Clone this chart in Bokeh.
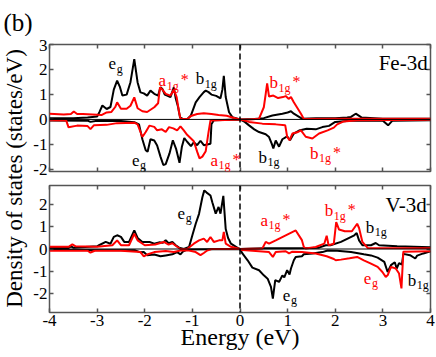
import math
from bokeh.plotting import figure
from bokeh.layouts import column, row
from bokeh.models import Range1d, LinearAxis, FixedTicker, Label, Span
from bokeh.embed import file_html
from bokeh.resources import INLINE

FONT = "Liberation Serif"
FRAME = "#555555"
RED = "#ff0000"

# ---------------- data: Fe-3d panel ----------------
fe_k_up_x = [-4.0, -3.5, -3.2, -3.0, -2.95, -2.89, -2.8, -2.72, -2.65, -2.58, -2.52, -2.47, -2.38, -2.3,
             -2.22, -2.15, -2.09, -2.02, -1.95, -1.88, -1.8, -1.72, -1.67, -1.63, -1.58, -1.53, -1.46,
             -1.39, -1.35, -1.3, -1.26, -1.2, -1.1, -1.03, -0.93, -0.85, -0.76, -0.72, -0.66, -0.6, -0.5,
             -0.41, -0.37, -0.34, -0.3, -0.23, -0.16, 0.0, 0.3, 0.5, 0.68, 0.89, 1.0, 1.07, 1.13, 1.3,
             1.6, 2.0, 2.25, 2.33, 2.43, 2.55, 3.0, 4.0]
fe_k_up_y = [0.05, 0.05, 0.08, 0.12, 0.3, 0.56, 0.42, 0.5, 1.2, 1.56, 1.3, 0.96, 1.0, 1.5,
             2.43, 1.49, 1.09, 1.05, 0.96, 1.16, 1.03, 0.96, 1.3, 1.23, 1.0, 0.96, 0.9,
             1.29, 0.85, 0.5, 0.08, 0.02, 0.03, 0.16, 0.69, 0.9, 1.1, 1.16, 1.1, 1.0, 0.95,
             0.85, 1.2, 1.76, 0.9, 0.29, 0.09, 0.0, 0.02, 0.05, 0.16, 0.23, 0.28, 0.33, 0.23, 0.03,
             0.05, 0.05, 0.08, 0.1, 0.23, 0.08, 0.03, 0.03]

fe_r_up_x = [-4.0, -3.7, -3.55, -3.49, -3.42, -3.3, -3.1, -2.9, -2.8, -2.7, -2.62, -2.58, -2.5, -2.38,
             -2.3, -2.22, -2.15, -2.05, -1.95, -1.8, -1.72, -1.68, -1.63, -1.56, -1.46, -1.39, -1.33,
             -1.28, -1.25, -1.1, -1.03, -0.9, -0.76, -0.6, -0.45, -0.28, -0.14, 0.0, 0.2, 0.4, 0.5,
             0.54, 0.57, 0.61, 0.7, 0.8, 0.9, 0.96, 1.02, 1.07, 1.13, 1.28, 1.34, 2.0, 4.0]
fe_r_up_y = [0.23, 0.2, 0.22, 0.32, 0.22, 0.22, 0.2, 0.18, 0.28, 0.3, 0.5, 0.69, 0.43, 0.43,
             0.55, 0.89, 0.45, 0.33, 0.3, 0.49, 0.65, 1.29, 1.2, 1.03, 0.96, 1.2, 0.9,
             0.3, 0.03, 0.02, 0.14, 0.22, 0.25, 0.22, 0.18, 0.15, 0.07, 0.0, 0.0, 0.03, 0.49,
             1.03, 1.45, 0.92, 0.96, 0.86, 0.9, 0.94, 0.83, 0.9, 0.69, 0.23, 0.02, 0.03, 0.03]

fe_k_dn_x = [-4.0, -3.2, -3.14, -3.0, -2.5, -2.22, -2.12, -2.05, -1.98, -1.94, -1.88, -1.8, -1.74,
             -1.67, -1.61, -1.56, -1.48, -1.41, -1.34, -1.27, -1.22, -1.17, -1.11, -1.03, -0.97, -0.9,
             -0.83, -0.76, -0.62, -0.6, -0.55, 0.0, 0.1, 0.19, 0.3, 0.4, 0.54, 0.61, 0.67, 0.7, 0.75,
             0.82, 0.89, 0.99, 1.05, 1.13, 1.24, 1.4, 1.59, 1.73, 1.87, 2.0, 2.3, 3.0, 3.11, 3.2, 4.0]
fe_k_dn_y = [-0.04, -0.05, -0.1, -0.05, -0.06, -0.11, -0.2, -0.8, -1.24, -1.3, -0.8, -0.85, -1.05,
             -1.5, -1.84, -1.8, -1.37, -0.84, -1.2, -1.75, -1.1, -0.75, -0.9, -1.08, -0.92, -1.04,
             -0.86, -1.04, -0.98, -0.2, -0.03, 0.0, -0.1, -0.24, -0.4, -0.51, -0.6, -0.71, -1.0, -1.17, -0.85,
             -1.1, -0.8, -0.68, -0.84, -0.57, -0.45, -0.38, -0.4, -0.31, -0.26, -0.1, -0.05, -0.05, -0.24, -0.05, -0.03]

fe_r_dn_x = [-4.0, -3.65, -3.6, -3.42, -3.2, -3.14, -3.07, -2.8, -2.58, -2.22, -2.15, -2.05, -1.98,
             -1.9, -1.8, -1.74, -1.64, -1.56, -1.49, -1.4, -1.32, -1.25, -1.18, -1.11, -1.04, -0.97,
             -0.9, -0.85, -0.79, -0.72, -0.66, -0.62, 0.0, 0.19, 0.47, 0.75, 0.95, 0.99, 1.04, 1.1,
             1.2, 1.28, 1.38, 1.52, 1.66, 1.84, 1.97, 2.04, 2.18, 2.46, 4.0]
fe_r_dn_y = [-0.03, -0.04, -0.32, -0.25, -0.27, -0.39, -0.24, -0.22, -0.15, -0.13, -0.2, -0.71, -0.51,
             -0.25, -0.3, -0.44, -0.4, -0.51, -0.31, -0.36, -0.44, -0.28, -0.44, -0.62, -0.75, -0.88,
             -1.3, -1.57, -1.5, -1.28, -0.5, -0.04, 0.0, -0.1, -0.17, -0.2, -0.24, -0.7, -0.84, -0.57,
             -0.52, -0.44, -0.7, -0.77, -0.57, -0.44, -0.33, -0.2, -0.08, -0.03, -0.01]

# ---------------- data: V-3d panel ----------------
v_k_up_x = [-4.0, -3.6, -3.55, -3.5, -3.0, -2.96, -2.82, -2.72, -2.65, -2.58, -2.5, -2.43, -2.33,
            -2.22, -2.15, -2.05, -1.9, -1.8, -1.7, -1.62, -1.56, -1.5, -1.42, -1.35, -1.28, -1.18,
            -1.07, -1.0, -0.93, -0.86, -0.79, -0.75, -0.7, -0.62, -0.58, -0.51, -0.45, -0.41, -0.35,
            -0.3, -0.25, -0.19, -0.05, 0.0, 0.5, 1.0, 1.5, 1.66, 1.8, 1.9, 2.12, 2.26, 2.4, 2.45, 2.5,
            2.57, 2.75, 2.85, 2.92, 3.3, 4.0]
v_k_up_y = [0.04, 0.05, 0.12, 0.06, 0.12, 0.17, 0.32, 0.24, 0.55, 0.62, 0.55, 0.32, 0.32,
            0.84, 0.5, 0.32, 0.32, 0.24, 0.3, 0.28, 0.4, 0.26, 0.32, 0.17, 0.06, 0.0,
            0.09, 0.62, 1.14, 1.59, 2.34, 2.65, 2.55, 2.42, 2.1, 1.6, 1.9, 1.6, 2.4,
            0.9, 0.5, 0.24, 0.05, 0.0, 0.03, 0.03, 0.05, 0.06, 0.17, 0.17, 0.32, 0.47, 0.62, 0.72, 0.39,
            0.17, 0.17, 0.27, 0.17, 0.12, 0.08]

v_r_up_x = [-4.0, -3.6, -3.52, -3.45, -3.0, -2.68, -2.58, -2.5, -2.33, -2.22, -2.15, -2.0, -1.78,
            -1.6, -1.5, -1.42, -1.32, -1.25, -1.11, -0.97, -0.86, -0.76, -0.69, -0.62, -0.55, -0.44,
            -0.37, -0.34, -0.3, -0.19, 0.0, 0.47, 0.54, 0.61, 0.75, 0.96, 1.17, 1.3, 1.34, 1.38, 1.59,
            1.77, 1.82, 1.86, 1.97, 2.02, 2.08, 2.2, 2.35, 2.46, 2.5, 2.57, 2.68, 4.0]
v_r_up_y = [0.1, 0.1, 0.21, 0.12, 0.1, 0.17, 0.39, 0.17, 0.17, 0.69, 0.39, 0.17, 0.2,
            0.32, 0.2, 0.26, 0.1, 0.0, 0.0, 0.24, 0.39, 0.47, 0.32, 0.54, 0.32, 0.39,
            0.39, 0.77, 0.24, 0.1, 0.0, 0.02, 0.32, 0.24, 0.39, 0.62, 0.84, 0.4, 0.09, 0.02, 0.09,
            0.24, 0.6, 0.17, 0.24, 1.22, 0.88, 0.8, 0.8, 1.14, 0.95, 0.32, 0.05, 0.03]

v_k_dn_x = [-4.0, -2.2, -2.09, -2.02, -1.95, -1.8, -1.67, -1.56, -1.42, -1.32, -1.25, -1.2, -1.1,
            0.0, 0.05, 0.16, 0.26, 0.4, 0.5, 0.58, 0.65, 0.69, 0.74, 0.82, 0.89, 0.93, 0.99, 1.04,
            1.07, 1.13, 1.17, 1.3, 1.34, 1.52, 1.73, 1.84, 2.04, 2.33, 2.6, 2.75, 2.89, 3.03, 3.1,
            3.17, 3.25, 3.29, 3.34, 3.4, 3.43, 3.57, 3.68, 3.72, 3.85, 4.0]
v_k_dn_y = [-0.05, -0.06, -0.15, -0.14, -0.28, -0.25, -0.33, -0.29, -0.24, -0.14, -0.24, -0.12, -0.02,
            0.0, -0.2, -0.51, -0.84, -0.96, -1.19, -1.34, -1.71, -2.24, -1.41, -1.49, -1.19, -1.28, -0.96, -1.15,
            -0.88, -0.51, -0.36, -0.33, -0.24, -0.2, -0.14, -0.07, -0.08, -0.14, -0.24, -0.29, -0.39, -0.58, -1.04,
            -0.73, -0.6, -0.88, -0.64, -0.7, -0.22, -0.28, -0.43, -0.3, -0.2, -0.1]

v_r_dn_x = [-4.0, -3.2, -3.14, -3.05, -2.5, -2.09, -2.02, -1.95, -1.8, -1.56, -1.39, -1.25, -1.07,
            -0.93, -0.83, -0.76, -0.69, -0.6, 0.0, 0.05, 0.61, 0.69, 0.75, 0.96, 1.03, 1.1, 1.3, 1.59,
            1.82, 1.97, 2.01, 2.12, 2.3, 2.46, 2.6, 2.75, 2.89, 2.99, 3.06, 3.1, 3.17, 3.27, 3.34, 3.39,
            3.43, 4.0]
v_r_dn_y = [-0.08, -0.08, -0.16, -0.08, -0.08, -0.14, -0.33, -0.25, -0.14, -0.09, -0.14, -0.07, -0.07,
            -0.14, -0.28, -0.18, -0.07, 0.0, 0.0, -0.05, -0.14, -0.36, -0.14, -0.1, -0.2, -0.12, -0.14, -0.2,
            -0.33, -0.45, -0.51, -0.48, -0.42, -0.36, -0.51, -0.66, -0.81, -1.04, -1.26, -1.19, -0.81, -0.88, -1.11, -1.78,
            -0.12, -0.1]

# ---------------- ticks and texts ----------------
x_ticks = [-4, -3, -2, -1, 0, 1, 2, 3, 4]
fe_y_ticks = [-2, -1, 0, 1, 2, 3]
v_y_ticks = [-2, -1, 0, 1, 2]
fe_range = (-2.1, 3.02)
v_range = (-2.87, 2.87)
x_title = "Energy (eV)"
y_title = "Density of states (states/eV)"

# (main, subscript, star, colour, x, y)
fe_notes = [
    ("e", "g", False, "black", -2.76, 2.24),
    ("a", "1g", True, RED, -1.71, 1.56),
    ("b", "1g", False, "black", -0.93, 1.64),
    ("b", "1g", True, RED, 0.62, 1.48),
    ("e", "g", False, "black", -2.27, -1.64),
    ("a", "1g", True, RED, -0.62, -1.64),
    ("b", "1g", False, "black", 0.39, -1.52),
    ("b", "1g", True, RED, 1.47, -1.36),
]
v_notes = [
    ("e", "g", False, "black", -1.31, 1.61),
    ("a", "1g", True, RED, 0.43, 1.29),
    ("b", "1g", True, RED, 1.78, 1.74),
    ("b", "1g", False, "black", 2.64, 0.98),
    ("e", "g", False, "black", 0.9, -2.09),
    ("e", "g", False, RED, 2.6, -1.32),
    ("b", "1g", False, "black", 3.52, -1.41),
]

LW = 28           # width of the y-label strip
PW = 408          # panel figure width
BL, BR = 21, 6    # left / right borders of the panels
HH = 36           # header height
H1, H2 = 142, 179


def style_axis(ax, ticks, show_labels):
    ax.ticker = FixedTicker(ticks=ticks)
    ax.major_tick_in = 4
    ax.major_tick_out = 0
    ax.minor_tick_line_color = None
    ax.major_tick_line_color = FRAME
    ax.major_tick_line_width = 1.5
    ax.axis_line_color = None
    if show_labels:
        ax.major_label_text_font = FONT
        ax.major_label_text_font_size = "17px"
        ax.major_label_text_color = "black"
        ax.major_label_standoff = 2
        ax.major_label_overrides = {t: str(t) for t in ticks}
    else:
        ax.major_label_text_font_size = "1px"
        ax.major_label_text_color = None
        ax.major_label_standoff = 0


def make_panel(height, btop, bbottom, yr, yticks, xlabels):
    p = figure(width=PW, height=height, x_range=Range1d(-4, 4), y_range=Range1d(*yr),
               output_backend="svg", toolbar_location=None,
               min_border_left=BL, min_border_right=BR,
               min_border_top=btop, min_border_bottom=bbottom)
    p.grid.visible = False
    p.outline_line_color = FRAME
    p.outline_line_width = 1.5
    bottom_ax = p.below[0]
    style_axis(bottom_ax, x_ticks, xlabels)
    style_axis(p.left[0], yticks, True)
    top_ax = LinearAxis()
    style_axis(top_ax, x_ticks, False)
    p.add_layout(top_ax, "above")
    right_ax = LinearAxis()
    style_axis(right_ax, yticks, False)
    p.add_layout(right_ax, "right")
    p.add_layout(Span(location=0, dimension="width", line_color="black", line_width=1))
    p.add_layout(Span(location=0, dimension="height", line_color="black", line_width=1.5,
                      line_dash="6 3"))
    return p, bottom_ax


def add_note(p, main, sub, star, color, x, y):
    w = 8.5 if main == "b" else 7.6
    p.add_layout(Label(x=x, y=y, text=main, text_font=FONT, text_font_size="17px",
                       text_color=color, text_baseline="alphabetic"))
    p.add_layout(Label(x=x, y=y, x_offset=w + 0.5, y_offset=-5, text=sub, text_font=FONT,
                       text_font_size="12px", text_color=color, text_baseline="alphabetic"))
    if star:
        sw = 12.5 if sub == "1g" else 6.5
        p.add_layout(Label(x=x, y=y, x_offset=w + sw + 2, y_offset=1, text="*", text_font=FONT,
                           text_font_size="16px", text_color=color, text_baseline="alphabetic"))


p1, _ = make_panel(H1, 8, 7, fe_range, fe_y_ticks, False)
p1.line(fe_k_up_x, fe_k_up_y, line_color="black", line_width=2)
p1.line(fe_k_dn_x, fe_k_dn_y, line_color="black", line_width=2)
p1.line(fe_r_up_x, fe_r_up_y, line_color=RED, line_width=2)
p1.line(fe_r_dn_x, fe_r_dn_y, line_color=RED, line_width=2)
for n in fe_notes:
    add_note(p1, *n)
p1.add_layout(Label(x=3.94, y=2.26, text="Fe-3d", text_font=FONT, text_font_size="21px",
                    text_align="right", text_baseline="alphabetic", text_color="black"))

p2, xa = make_panel(H2, 7, H2 - 7 - 127, v_range, v_y_ticks, True)
p2.line(v_k_up_x, v_k_up_y, line_color="black", line_width=2)
p2.line(v_k_dn_x, v_k_dn_y, line_color="black", line_width=2)
p2.line(v_r_up_x, v_r_up_y, line_color=RED, line_width=2)
p2.line(v_r_dn_x, v_r_dn_y, line_color=RED, line_width=2)
for n in v_notes:
    add_note(p2, *n)
p2.add_layout(Label(x=3.92, y=1.97, text="V-3d", text_font=FONT, text_font_size="21px",
                    text_align="right", text_baseline="alphabetic", text_color="black"))
xa.axis_label = x_title
xa.axis_label_text_font = FONT
xa.axis_label_text_font_size = "24px"
xa.axis_label_text_font_style = "normal"
xa.axis_label_text_color = "black"
xa.axis_label_standoff = -5

header = figure(width=LW + PW, height=HH, x_range=Range1d(0, LW + PW), y_range=Range1d(0, HH),
                x_axis_type=None, y_axis_type=None, output_backend="svg",
                toolbar_location=None, min_border=0, outline_line_color=None)
header.add_layout(Label(x=3, y=HH - 22, text="(b)", text_font=FONT, text_font_size="25px",
                        text_baseline="alphabetic", text_color="black"))

YH = H1 + H2
ylab = figure(width=LW, height=YH, x_range=Range1d(0, LW), y_range=Range1d(0, YH),
              x_axis_type=None, y_axis_type=None, output_backend="svg",
              toolbar_location=None, min_border=0, outline_line_color=None)
ylab.add_layout(Label(x=14, y=YH - (178 - HH), angle=math.pi / 2, text=y_title,
                      text_font=FONT, text_font_size="23px", text_align="center",
                      text_baseline="middle", text_color="black"))

layout = column(header, row(ylab, column(p1, p2)))
open("out.html", "w").write(file_html(layout, INLINE))
